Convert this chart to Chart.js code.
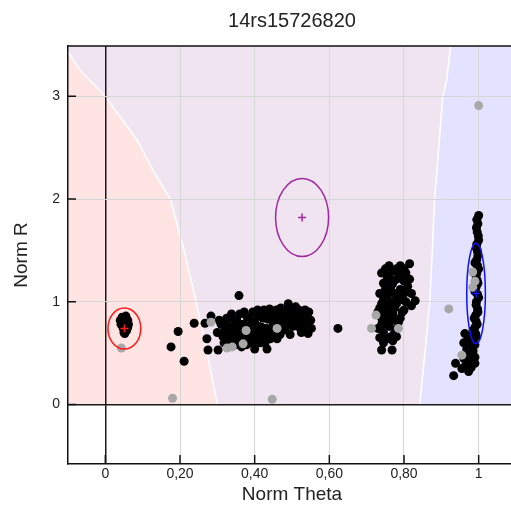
<!DOCTYPE html>
<html>
<head>
<meta charset="utf-8">
<script src="https://cdn.jsdelivr.net/npm/chart.js@4.4.1/dist/chart.umd.min.js"></script>
<style>
    html, body { margin: 0; padding: 0; overflow: hidden; background: #fff; }
    #frame { width: 511px; height: 507px; overflow: hidden; }
    #box { position: relative; width: 530px; height: 507px; }
</style>
</head>
<body>
<div id="frame"><div id="box"><canvas id="clusterChart"></canvas></div></div>
<script>
const chartTitle = '14rs15726820';

const xTickValues = [0, 0.2, 0.4, 0.6, 0.8, 1];
const xTickLabels = ['0', '0,20', '0,40', '0,60', '0,80', '1'];
const yTickValues = [0, 1, 2, 3];
const yTickLabels = ['0', '1', '2', '3'];

// genotype calls (theta, R)
const clusterAA = [
    [0.045, 0.85], [0.055, 0.86], [0.040, 0.82], [0.050, 0.80], [0.060, 0.82], [0.042, 0.78],
    [0.055, 0.77], [0.048, 0.74], [0.060, 0.75], [0.050, 0.70], [0.057, 0.72], [0.052, 0.69],
    [0.044, 0.80], [0.058, 0.79], [0.053, 0.82], [0.047, 0.76], [0.056, 0.74], [0.062, 0.78]
];

const clusterAB = [
    [0.176, 0.56], [0.195, 0.71], [0.211, 0.42], [0.238, 0.79], [0.267, 0.79], [0.283, 0.86],
    [0.272, 0.64], [0.275, 0.53], [0.302, 0.53], [0.358, 1.06], [0.623, 0.74],
    [0.31, 0.78], [0.315, 0.66], [0.32, 0.72], [0.325, 0.84], [0.33, 0.60], [0.335, 0.75],
    [0.34, 0.68], [0.345, 0.82], [0.35, 0.62], [0.355, 0.73], [0.36, 0.88], [0.365, 0.56],
    [0.37, 0.78], [0.375, 0.66], [0.38, 0.85], [0.385, 0.60], [0.39, 0.72], [0.395, 0.90],
    [0.40, 0.54], [0.40, 0.80], [0.405, 0.67], [0.41, 0.86], [0.415, 0.60], [0.42, 0.75],
    [0.425, 0.92], [0.43, 0.66], [0.433, 0.54], [0.435, 0.83], [0.44, 0.93], [0.445, 0.70],
    [0.45, 0.78], [0.455, 0.88], [0.46, 0.64], [0.465, 0.82], [0.47, 0.94], [0.475, 0.72],
    [0.48, 0.86], [0.485, 0.79], [0.49, 0.98], [0.495, 0.68], [0.50, 0.90], [0.505, 0.82],
    [0.51, 0.95], [0.515, 0.76], [0.52, 0.88], [0.525, 0.70], [0.53, 0.84], [0.535, 0.92],
    [0.54, 0.78], [0.543, 0.69], [0.55, 0.82],
    [0.318, 0.60], [0.322, 0.80], [0.328, 0.68], [0.338, 0.88], [0.342, 0.76], [0.348, 0.58],
    [0.352, 0.82], [0.358, 0.68], [0.362, 0.62], [0.368, 0.72], [0.372, 0.90], [0.378, 0.58],
    [0.382, 0.76], [0.388, 0.66], [0.392, 0.82], [0.398, 0.62], [0.402, 0.72], [0.408, 0.92],
    [0.412, 0.76], [0.418, 0.68], [0.422, 0.84], [0.428, 0.60], [0.432, 0.74], [0.438, 0.88],
    [0.442, 0.64], [0.448, 0.84], [0.452, 0.70], [0.458, 0.92], [0.462, 0.78], [0.468, 0.68],
    [0.472, 0.86], [0.478, 0.92], [0.482, 0.74], [0.488, 0.88], [0.492, 0.82], [0.498, 0.94],
    [0.502, 0.76], [0.508, 0.88], [0.512, 0.84], [0.518, 0.92], [0.522, 0.80], [0.528, 0.90],
    [0.532, 0.76], [0.538, 0.86], [0.545, 0.90], [0.552, 0.74], [0.335, 0.64], [0.300, 0.70],
    [0.305, 0.82], [0.360, 0.78]
];

const clusterAB2 = [
    [0.75, 1.32], [0.77, 1.30], [0.79, 1.35], [0.815, 1.37], [0.805, 1.28], [0.76, 1.25],
    [0.78, 1.22], [0.80, 1.20], [0.745, 1.18], [0.765, 1.15], [0.79, 1.12], [0.81, 1.15],
    [0.735, 1.08], [0.755, 1.05], [0.775, 1.08], [0.795, 1.02], [0.83, 1.01], [0.82, 1.08],
    [0.74, 0.98], [0.76, 0.95], [0.78, 0.98], [0.80, 0.92], [0.73, 0.90], [0.75, 0.86],
    [0.77, 0.88], [0.79, 0.84], [0.74, 0.78], [0.76, 0.76], [0.78, 0.74], [0.745, 0.70],
    [0.765, 0.66], [0.735, 0.65], [0.77, 0.62], [0.74, 0.53], [0.768, 0.53], [0.755, 1.22],
    [0.785, 1.28], [0.77, 1.00], [0.75, 0.92], [0.76, 0.82],
    [0.74, 1.28], [0.76, 1.35], [0.78, 1.32], [0.80, 1.32], [0.75, 1.12], [0.77, 1.18],
    [0.79, 1.24], [0.80, 1.08], [0.815, 1.22], [0.745, 1.02], [0.765, 1.10], [0.785, 1.04],
    [0.805, 1.00], [0.82, 0.96], [0.735, 0.94], [0.755, 0.98], [0.775, 0.94], [0.795, 0.90],
    [0.74, 0.84], [0.765, 0.88], [0.785, 0.80], [0.755, 0.78], [0.775, 0.70], [0.755, 0.64],
    [0.745, 0.60], [0.78, 0.66], [0.77, 0.82], [0.73, 0.74]
];

const clusterBB = [
    [1.0, 1.84], [0.998, 1.76], [0.996, 1.68], [1.0, 1.60], [0.994, 1.52], [0.998, 1.45],
    [0.99, 1.38], [1.0, 1.32], [0.993, 1.25], [0.998, 1.18], [0.99, 1.10], [1.0, 1.04],
    [0.993, 0.97], [0.998, 0.90], [0.988, 0.84], [0.996, 0.78], [0.985, 0.72], [0.994, 0.66],
    [0.98, 0.62], [0.99, 0.58], [0.975, 0.56], [0.985, 0.52], [0.97, 0.50], [0.99, 0.46],
    [0.963, 0.69], [0.96, 0.60], [0.976, 0.43], [0.973, 0.32], [0.938, 0.40], [0.933, 0.28],
    [0.965, 0.38], [0.98, 0.36],
    [0.995, 1.80], [0.994, 1.72], [0.999, 1.64], [0.995, 1.56], [0.997, 1.49], [0.995, 1.41],
    [0.997, 1.35], [0.995, 1.28], [0.996, 1.21], [0.993, 1.14], [0.997, 1.07], [0.994, 1.00],
    [0.997, 0.93], [0.992, 0.87], [0.993, 0.81], [0.99, 0.75], [0.992, 0.69], [0.986, 0.64],
    [0.978, 0.66], [0.97, 0.62], [0.968, 0.54], [0.982, 0.48], [0.99, 0.40], [0.978, 0.40],
    [0.96, 0.45], [0.955, 0.35], [0.97, 0.45]
];

const noCalls = [
    [0.043, 0.55], [0.283, 0.80], [0.326, 0.55], [0.34, 0.56], [0.369, 0.59], [0.377, 0.72],
    [0.46, 0.74], [0.18, 0.06], [0.447, 0.05], [0.725, 0.87], [0.713, 0.74], [0.785, 0.74],
    [0.92, 0.93], [0.955, 0.48], [0.984, 1.29], [0.984, 1.14], [0.99, 1.20], [1.0, 2.91]
];

// cluster ellipses: center and half axes (theta, R)
const ellipseCenters = [[0.051, 0.74], [0.527, 1.82], [0.993, 1.08]];
const ellipseRadii = [[0.044, 0.20], [0.071, 0.38], [0.025, 0.49]];
const ellipseColors = ['#ff1a1a', '#a0289e', '#1010ff'];

// call region boundaries (theta, R), bottom to top
const leftBoundary = [
    [0.30, 0], [0.273, 0.5], [0.243, 1.0], [0.211, 1.5], [0.174, 2.0], [0.128, 2.28],
    [0.086, 2.57], [0, 3.0], [-0.067, 3.25], [-0.094, 3.40], [-0.105, 3.45]
];
const rightBoundary = [
    [0.842, 0], [0.856, 0.5], [0.869, 1.0], [0.876, 1.5], [0.882, 2.0], [0.893, 2.5],
    [0.904, 3.0], [0.914, 3.15], [0.925, 3.49], [0.93, 3.6]
];

const X_MIN = -0.1, X_MAX = 1.1, Y_MIN = -0.58, Y_MAX = 3.49;
const FONT = 'Liberation Sans';

const toPoints = arr => arr.map(p => ({ x: p[0], y: p[1] }));

const regionsPlugin = {
    id: 'regions',
    beforeDraw(chart) {
        const { ctx, chartArea: a, scales: { x, y } } = chart;
        const zeroY = y.getPixelForValue(0);
        const topY = y.getPixelForValue(Y_MAX);
        ctx.save();
        ctx.beginPath();
        ctx.rect(a.left, a.top, a.right - a.left, a.bottom - a.top);
        ctx.clip();

        ctx.fillStyle = '#f0e4f1';
        ctx.fillRect(a.left, topY - 5, a.right - a.left, zeroY - topY + 5);

        ctx.fillStyle = '#ffe4e4';
        ctx.beginPath();
        ctx.moveTo(a.left - 5, zeroY);
        leftBoundary.forEach(p => ctx.lineTo(x.getPixelForValue(p[0]), y.getPixelForValue(p[1])));
        ctx.lineTo(a.left - 5, a.top - 5);
        ctx.closePath();
        ctx.fill();

        ctx.fillStyle = '#e3e3ff';
        ctx.beginPath();
        ctx.moveTo(a.right + 5, zeroY);
        rightBoundary.forEach(p => ctx.lineTo(x.getPixelForValue(p[0]), y.getPixelForValue(p[1])));
        ctx.lineTo(a.right + 5, a.top - 5);
        ctx.closePath();
        ctx.fill();

        ctx.strokeStyle = '#ffffff';
        ctx.lineWidth = 1.5;
        [leftBoundary, rightBoundary].forEach(line => {
            ctx.beginPath();
            line.forEach((p, i) => {
                const px = x.getPixelForValue(p[0]);
                const py = y.getPixelForValue(p[1]);
                if (i === 0) ctx.moveTo(px, py); else ctx.lineTo(px, py);
            });
            ctx.stroke();
        });
        ctx.restore();
    },
    afterDatasetsDraw(chart) {
        const { ctx, chartArea: a, scales: { x, y } } = chart;
        ctx.save();
        ctx.lineWidth = 1.5;
        ellipseCenters.forEach((c, i) => {
            const cx = x.getPixelForValue(c[0]);
            const cy = y.getPixelForValue(c[1]);
            const rx = x.getPixelForValue(c[0] + ellipseRadii[i][0]) - cx;
            const ry = cy - y.getPixelForValue(c[1] + ellipseRadii[i][1]);
            ctx.strokeStyle = ellipseColors[i];
            ctx.beginPath();
            ctx.ellipse(cx, cy, rx, ry, 0, 0, Math.PI * 2);
            ctx.stroke();
            ctx.beginPath();
            ctx.moveTo(cx - 4, cy); ctx.lineTo(cx + 4, cy);
            ctx.moveTo(cx, cy - 4); ctx.lineTo(cx, cy + 4);
            ctx.stroke();
        });

        // inward tick marks and top border
        ctx.strokeStyle = '#111';
        ctx.lineWidth = 1.5;
        ctx.beginPath();
        yTickValues.forEach(v => {
            const py = y.getPixelForValue(v);
            ctx.moveTo(a.left, py); ctx.lineTo(a.left + 8, py);
        });
        xTickValues.forEach(v => {
            const px = x.getPixelForValue(v);
            ctx.moveTo(px, a.bottom); ctx.lineTo(px, a.bottom - 9);
        });
        ctx.moveTo(a.left, a.top); ctx.lineTo(a.right, a.top);
        ctx.stroke();
        ctx.restore();
    }
};

const gridColor = ctx => (ctx.tick && ctx.tick.value === 0 ? '#1a1a1a' : '#d6d6d6');
const gridWidth = ctx => (ctx.tick && ctx.tick.value === 0 ? 1.5 : 1);

new Chart(document.getElementById('clusterChart'), {
    type: 'scatter',
    data: {
        datasets: [
            { label: 'NC', data: toPoints(noCalls), backgroundColor: '#a8a8a8' },
            { label: 'AA', data: toPoints(clusterAA), backgroundColor: '#000' },
            { label: 'AB', data: toPoints(clusterAB), backgroundColor: '#000' },
            { label: 'AB2', data: toPoints(clusterAB2), backgroundColor: '#000' },
            { label: 'BB', data: toPoints(clusterBB), backgroundColor: '#000' }
        ]
    },
    options: {
        responsive: true,
        maintainAspectRatio: false,
        animation: false,
        elements: { point: { radius: 4.5, borderWidth: 0, hoverRadius: 4.5 } },
        layout: { padding: { left: 0, right: 14, top: 0, bottom: 0 } },
        plugins: {
            legend: { display: false },
            tooltip: { enabled: false },
            title: {
                display: true,
                text: chartTitle,
                fullSize: false,
                color: '#222',
                font: { family: FONT, size: 20, weight: 'normal' },
                padding: { top: 9, bottom: 13 }
            }
        },
        scales: {
            x: {
                type: 'linear',
                min: X_MIN,
                max: X_MAX,
                afterBuildTicks: scale => { scale.ticks = xTickValues.map(v => ({ value: v })); },
                afterFit: scale => { scale.height = 43; },
                ticks: {
                    callback: (value, index) => xTickLabels[index],
                    color: '#222',
                    padding: 2,
                    maxRotation: 0,
                    autoSkip: false,
                    font: { family: FONT, size: 14 }
                },
                grid: { color: gridColor, lineWidth: gridWidth, drawTicks: false },
                border: { display: true, color: '#111', width: 1.5 },
                title: {
                    display: true,
                    text: 'Norm Theta',
                    color: '#222',
                    font: { family: FONT, size: 19 },
                    padding: { top: 0, bottom: 1 }
                }
            },
            y: {
                type: 'linear',
                min: Y_MIN,
                max: Y_MAX,
                afterBuildTicks: scale => { scale.ticks = yTickValues.map(v => ({ value: v })); },
                afterFit: scale => { scale.width = 68; },
                ticks: {
                    callback: (value, index) => yTickLabels[index],
                    color: '#222',
                    padding: 8,
                    autoSkip: false,
                    font: { family: FONT, size: 14 }
                },
                grid: { color: gridColor, lineWidth: gridWidth, drawTicks: false },
                border: { display: true, color: '#111', width: 1.5 },
                title: {
                    display: true,
                    text: 'Norm R',
                    color: '#222',
                    font: { family: FONT, size: 19 },
                    padding: { top: 10.5, bottom: 0 }
                }
            }
        }
    },
    plugins: [regionsPlugin]
});
</script>
</body>
</html>
